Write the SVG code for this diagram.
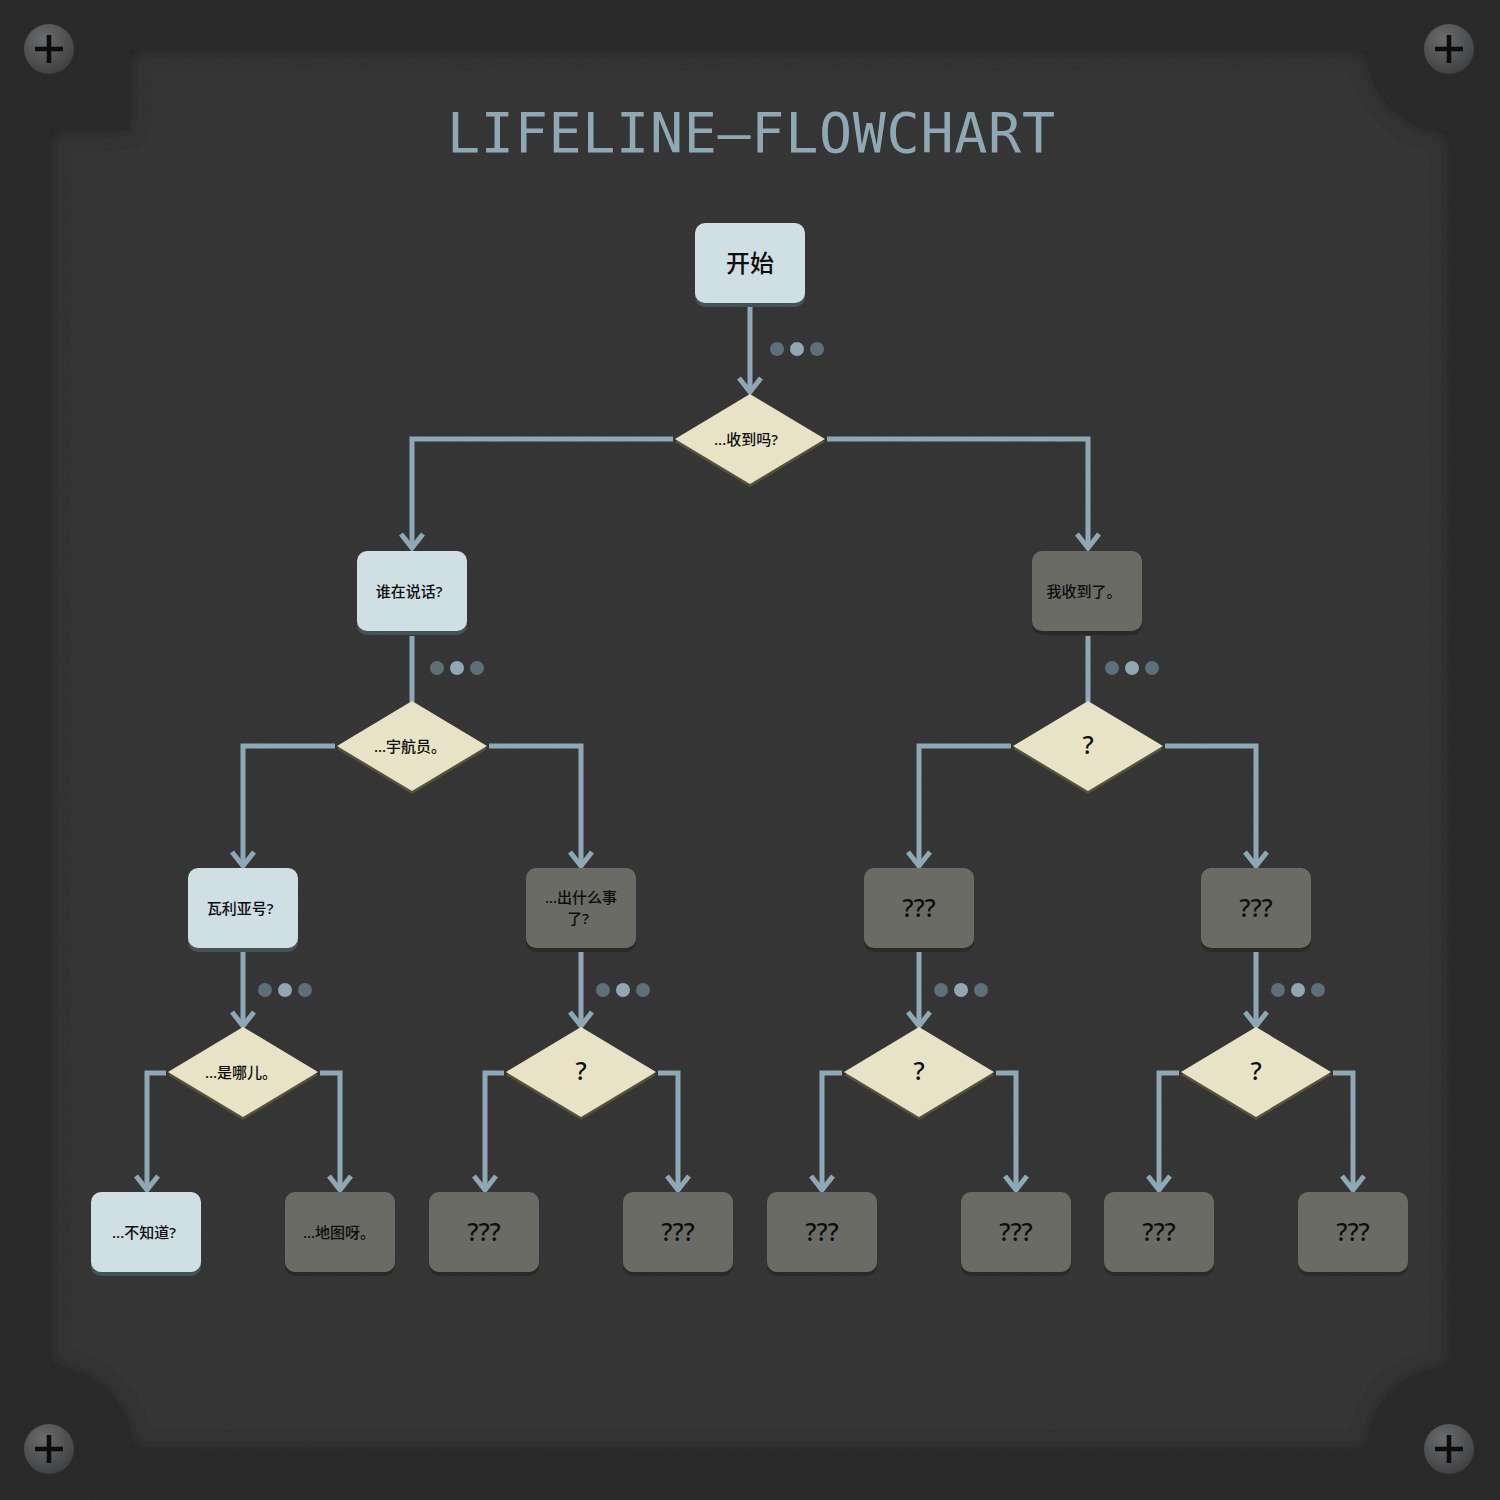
<svg xmlns="http://www.w3.org/2000/svg" width="1500" height="1500" viewBox="0 0 1500 1500">
<style>
.cj{font-family:"Noto Sans","Noto Sans CJK SC",sans-serif;font-weight:500;fill:#0d0d0d;text-anchor:middle}
.s14{font-size:15px}
.s22{font-size:25px}
.s24{font-size:24px}
.lb{fill:#cfdfe4}
.lbs{fill:#435459}
.gr{fill:#6b6b65}
.grs{fill:#2a2a27}
.dm{fill:#e8e3c6}
.dms{fill:#55523b}
.con{fill:none;stroke:#8ea9b5;stroke-width:5;stroke-linejoin:miter}
.da{fill:#5b7079}
.dl{fill:#8fa8b3}
</style>
<defs>
<filter id="noise" x="0" y="0" width="100%" height="100%">
<feTurbulence type="fractalNoise" baseFrequency="0.9" numOctaves="3" seed="4"/>
<feColorMatrix type="matrix" values="0 0 0 0 0  0 0 0 0 0  0 0 0 0 0  0 0 0 -1.4 1.1"/>
</filter>
<filter id="inset" x="-5%" y="-5%" width="110%" height="110%">
<feFlood flood-color="#000" flood-opacity="0.55"/>
<feComposite in2="SourceAlpha" operator="out"/>
<feGaussianBlur stdDeviation="9"/>
<feComposite in2="SourceAlpha" operator="in" result="sh"/>
<feMerge><feMergeNode in="SourceGraphic"/><feMergeNode in="sh"/></feMerge>
</filter>
<radialGradient id="screw" cx="0.4" cy="0.3" r="0.8">
<stop offset="0" stop-color="#6a6c6e"/>
<stop offset="1" stop-color="#3a3b3d"/>
</radialGradient>
<marker id="arr" markerUnits="userSpaceOnUse" markerWidth="34" markerHeight="34" viewBox="-17 -17 34 34" refX="0" refY="0" orient="auto">
<path d="M-14,-11 L0,0 L-14,11" fill="none" stroke="#8ea9b5" stroke-width="5"/>
</marker>
<g id="scr">
<circle r="25" fill="url(#screw)"/>
<path d="M-14,0 H14 M0,-14 V14" stroke="#0c0c0c" stroke-width="4.5"/>
</g>
</defs>
<rect width="1500" height="1500" fill="#2c2c2c"/>
<path d="M130,50 H1368 A82,82 0 0 0 1450,132 V1368 A82,82 0 0 0 1368,1450 H132 A82,82 0 0 0 50,1368 V130 H130 Z" fill="#393939" filter="url(#inset)"/>
<rect width="1500" height="1500" filter="url(#noise)" opacity="0.1"/>
<use href="#scr" x="49" y="49"/>
<use href="#scr" x="1449" y="49"/>
<use href="#scr" x="49" y="1449"/>
<use href="#scr" x="1449" y="1449"/>
<text x="751" y="152" font-family="DejaVu Sans Mono, monospace" font-size="55" fill="#8fa9b4" text-anchor="middle" textLength="608" lengthAdjust="spacing">LIFELINE—FLOWCHART</text>

<g id="connectors">
<path class="con" d="M750,307 V392" marker-end="url(#arr)"/>
<path class="con" d="M673,439 H412 V548" marker-end="url(#arr)"/>
<path class="con" d="M827,439 H1088 V548" marker-end="url(#arr)"/>
<path class="con" d="M412,636 V702"/>
<path class="con" d="M1088,636 V702"/>
<path class="con" d="M335,746 H243 V866" marker-end="url(#arr)"/>
<path class="con" d="M489,746 H581 V866" marker-end="url(#arr)"/>
<path class="con" d="M1011,746 H919 V866" marker-end="url(#arr)"/>
<path class="con" d="M1165,746 H1256 V866" marker-end="url(#arr)"/>
<path class="con" d="M243,952 V1026" marker-end="url(#arr)"/>
<path class="con" d="M581,952 V1026" marker-end="url(#arr)"/>
<path class="con" d="M919,952 V1026" marker-end="url(#arr)"/>
<path class="con" d="M1256,952 V1026" marker-end="url(#arr)"/>
<path class="con" d="M166,1073 H147 V1190" marker-end="url(#arr)"/>
<path class="con" d="M320,1073 H340 V1190" marker-end="url(#arr)"/>
<path class="con" d="M504,1073 H485 V1190" marker-end="url(#arr)"/>
<path class="con" d="M658,1073 H678 V1190" marker-end="url(#arr)"/>
<path class="con" d="M842,1073 H822 V1190" marker-end="url(#arr)"/>
<path class="con" d="M996,1073 H1016 V1190" marker-end="url(#arr)"/>
<path class="con" d="M1179,1073 H1159 V1190" marker-end="url(#arr)"/>
<path class="con" d="M1333,1073 H1353 V1190" marker-end="url(#arr)"/>
</g>

<g id="dots">
<circle class="da" cx="777" cy="349" r="7"/><circle class="dl" cx="797" cy="349" r="7"/><circle class="da" cx="817" cy="349" r="7"/>
<circle class="da" cx="437" cy="668" r="7"/><circle class="dl" cx="457" cy="668" r="7"/><circle class="da" cx="477" cy="668" r="7"/>
<circle class="da" cx="1112" cy="668" r="7"/><circle class="dl" cx="1132" cy="668" r="7"/><circle class="da" cx="1152" cy="668" r="7"/>
<circle class="da" cx="265" cy="990" r="7"/><circle class="dl" cx="285" cy="990" r="7"/><circle class="da" cx="305" cy="990" r="7"/>
<circle class="da" cx="603" cy="990" r="7"/><circle class="dl" cx="623" cy="990" r="7"/><circle class="da" cx="643" cy="990" r="7"/>
<circle class="da" cx="941" cy="990" r="7"/><circle class="dl" cx="961" cy="990" r="7"/><circle class="da" cx="981" cy="990" r="7"/>
<circle class="da" cx="1278" cy="990" r="7"/><circle class="dl" cx="1298" cy="990" r="7"/><circle class="da" cx="1318" cy="990" r="7"/>
</g>

<g id="n-start"><rect class="lbs" x="695" y="227" width="110" height="80" rx="10"/><rect class="lb" x="695" y="223" width="110" height="80" rx="10"/><text class="cj s24" x="750" y="272">开始</text></g>
<g id="d-1"><polygon class="dms" points="675,442 750,397 825,442 750,487"/><polygon class="dm" points="675,439 750,394 825,439 750,484"/><text class="cj s14" x="746" y="445">...收到吗?</text></g>
<g id="n-who"><rect class="lbs" x="357" y="555" width="110" height="80" rx="10"/><rect class="lb" x="357" y="551" width="110" height="80" rx="10"/><text class="cj s14" x="409" y="597">谁在说话?</text></g>
<g id="n-got"><rect class="grs" x="1032" y="555" width="110" height="80" rx="10"/><rect class="gr" x="1032" y="551" width="110" height="80" rx="10"/><text class="cj s14" x="1084" y="597">我收到了。</text></g>
<g id="d-2"><polygon class="dms" points="337,749 412,704 487,749 412,794"/><polygon class="dm" points="337,746 412,701 487,746 412,791"/><text class="cj s14" x="410" y="752">...宇航员。</text></g>
<g id="d-3"><polygon class="dms" points="1013,749 1088,704 1163,749 1088,794"/><polygon class="dm" points="1013,746 1088,701 1163,746 1088,791"/><text class="cj s22" x="1088" y="754">?</text></g>
<g id="n-valia"><rect class="lbs" x="188" y="872" width="110" height="80" rx="10"/><rect class="lb" x="188" y="868" width="110" height="80" rx="10"/><text class="cj s14" x="240" y="914">瓦利亚号?</text></g>
<g id="n-what"><rect class="grs" x="526" y="872" width="110" height="80" rx="10"/><rect class="gr" x="526" y="868" width="110" height="80" rx="10"/><text class="cj s14" x="581" y="903">...出什么事<tspan x="578" y="924">了?</tspan></text></g>
<g id="n-q1"><rect class="grs" x="864" y="872" width="110" height="80" rx="10"/><rect class="gr" x="864" y="868" width="110" height="80" rx="10"/><text class="cj s22" x="919" y="917">???</text></g>
<g id="n-q2"><rect class="grs" x="1201" y="872" width="110" height="80" rx="10"/><rect class="gr" x="1201" y="868" width="110" height="80" rx="10"/><text class="cj s22" x="1256" y="917">???</text></g>
<g id="d-4"><polygon class="dms" points="168,1075 243,1030 318,1075 243,1120"/><polygon class="dm" points="168,1072 243,1027 318,1072 243,1117"/><text class="cj s14" x="241" y="1078">...是哪儿。</text></g>
<g id="d-5"><polygon class="dms" points="506,1075 581,1030 656,1075 581,1120"/><polygon class="dm" points="506,1072 581,1027 656,1072 581,1117"/><text class="cj s22" x="581" y="1080">?</text></g>
<g id="d-6"><polygon class="dms" points="844,1075 919,1030 994,1075 919,1120"/><polygon class="dm" points="844,1072 919,1027 994,1072 919,1117"/><text class="cj s22" x="919" y="1080">?</text></g>
<g id="d-7"><polygon class="dms" points="1181,1075 1256,1030 1331,1075 1256,1120"/><polygon class="dm" points="1181,1072 1256,1027 1331,1072 1256,1117"/><text class="cj s22" x="1256" y="1080">?</text></g>
<g id="n-dunno"><rect class="lbs" x="91" y="1196" width="110" height="80" rx="10"/><rect class="lb" x="91" y="1192" width="110" height="80" rx="10"/><text class="cj s14" x="144" y="1238">...不知道?</text></g>
<g id="n-map"><rect class="grs" x="285" y="1196" width="110" height="80" rx="10"/><rect class="gr" x="285" y="1192" width="110" height="80" rx="10"/><text class="cj s14" x="339" y="1238">...地图呀。</text></g>
<g id="n-q3"><rect class="grs" x="429" y="1196" width="110" height="80" rx="10"/><rect class="gr" x="429" y="1192" width="110" height="80" rx="10"/><text class="cj s22" x="484" y="1241">???</text></g>
<g id="n-q4"><rect class="grs" x="623" y="1196" width="110" height="80" rx="10"/><rect class="gr" x="623" y="1192" width="110" height="80" rx="10"/><text class="cj s22" x="678" y="1241">???</text></g>
<g id="n-q5"><rect class="grs" x="767" y="1196" width="110" height="80" rx="10"/><rect class="gr" x="767" y="1192" width="110" height="80" rx="10"/><text class="cj s22" x="822" y="1241">???</text></g>
<g id="n-q6"><rect class="grs" x="961" y="1196" width="110" height="80" rx="10"/><rect class="gr" x="961" y="1192" width="110" height="80" rx="10"/><text class="cj s22" x="1016" y="1241">???</text></g>
<g id="n-q7"><rect class="grs" x="1104" y="1196" width="110" height="80" rx="10"/><rect class="gr" x="1104" y="1192" width="110" height="80" rx="10"/><text class="cj s22" x="1159" y="1241">???</text></g>
<g id="n-q8"><rect class="grs" x="1298" y="1196" width="110" height="80" rx="10"/><rect class="gr" x="1298" y="1192" width="110" height="80" rx="10"/><text class="cj s22" x="1353" y="1241">???</text></g>
</svg>
